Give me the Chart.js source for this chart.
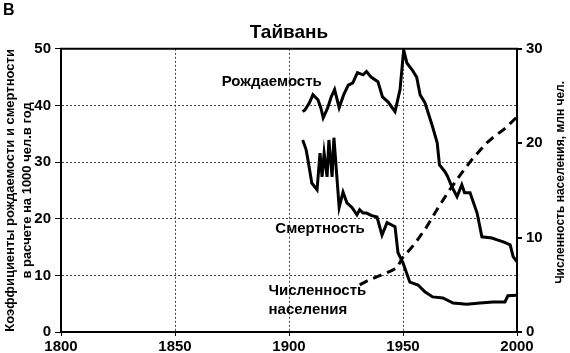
<!DOCTYPE html>
<html>
<head>
<meta charset="utf-8">
<script src="https://cdn.jsdelivr.net/npm/chart.js@4.4.1/dist/chart.umd.min.js"></script>
<style>
  html, body { margin: 0; padding: 0; background: #fff; }
</style>
</head>
<body>
<canvas id="chart" width="570" height="353"></canvas>
<script>
// Taiwan: birth / death rate per 1000 (left axis), population in mln (right axis)
const birthYears = [1906, 1907, 1909, 1910.5, 1912.7, 1914, 1915, 1917, 1918.5, 1920, 1922, 1924, 1926, 1928, 1930, 1932.5, 1934, 1936, 1939, 1941, 1943.5, 1946.5, 1948.7, 1950.3, 1951.7, 1954, 1956, 1957.5, 1959.6, 1962.7, 1965, 1966, 1968.4, 1969.5, 1971.5, 1973.7, 1975.8, 1977, 1979.4, 1982.5, 1984.6, 1989, 1991, 1994, 1997, 1998.3, 2000];
const birthRate = [38.9, 39.2, 40.5, 41.9, 41.0, 39.5, 37.8, 39.6, 41.5, 42.8, 39.6, 41.9, 43.6, 44.0, 45.8, 45.4, 46.0, 45.0, 44.2, 41.5, 40.6, 38.9, 42.8, 49.8, 47.5, 46.3, 45.0, 41.9, 40.5, 36.6, 33.4, 29.5, 28.3, 27.5, 25.6, 23.9, 26.0, 24.6, 24.6, 21.0, 16.8, 16.6, 16.3, 15.9, 15.4, 13.3, 12.4];

const deathYears = [1906, 1907.5, 1908.3, 1910, 1912.3, 1913.6, 1914.5, 1915.4, 1916.7, 1917.5, 1918.9, 1919.7, 1921, 1922, 1923.7, 1925.4, 1927.6, 1929.8, 1931, 1932.5, 1934, 1936, 1938.6, 1940.8, 1943, 1946.5, 1947.8, 1950, 1953, 1956.6, 1959.6, 1963, 1967.5, 1972, 1978, 1983.8, 1989.5, 1994.7, 1996, 2000];
const deathRate = [33.9, 32.2, 30.4, 26.3, 25.1, 31.6, 27.4, 31.6, 27.4, 33.9, 27.4, 34.3, 27.4, 22.0, 24.7, 22.8, 22.0, 20.7, 21.6, 21.0, 21.0, 20.6, 20.3, 17.1, 19.3, 18.6, 14.0, 12.2, 8.8, 8.3, 7.1, 6.2, 6.0, 5.1, 4.9, 5.1, 5.3, 5.3, 6.4, 6.5];

const popYears = [1931, 1935, 1940, 1945, 1947.4, 1949.6, 1955, 1960, 1963, 1965, 1970, 1975, 1980, 1984, 1987, 1990, 1995, 2000];
const population = [5.0, 5.5, 6.0, 6.5, 6.8, 7.8, 9.3, 11.0, 12.2, 13.0, 14.9, 16.6, 18.2, 19.3, 20.1, 20.7, 21.6, 22.8];

const yearTicks = [1800, 1850, 1900, 1950, 2000];
const rateTicks = [0, 10, 20, 30, 40, 50];
const popTicks = [0, 10, 20, 30];

const FONT = "'Liberation Sans', Arial, sans-serif";

function toPoints(xs, ys) {
  return xs.map((x, i) => ({ x: x, y: ys[i] }));
}

// text labels next to the curves, placed in data coordinates
const notes = [
  { text: "Рождаемость", year: 1870.5, value: 44.2, axis: "y" },
  { text: "Смертность", year: 1894, value: 18.2, axis: "y" },
  { text: "Численность", year: 1891, value: 7.3, axis: "y" },
  { text: "населения", year: 1891, value: 3.9, axis: "y" }
];

const extras = {
  id: "extras",
  afterDraw(chart) {
    const ctx = chart.ctx;
    const area = chart.chartArea;
    const xs = chart.scales.x;
    ctx.save();
    // top frame line
    ctx.strokeStyle = "#000";
    ctx.lineWidth = 2;
    ctx.beginPath();
    ctx.moveTo(area.left - 1, area.top);
    ctx.lineTo(area.right + 1, area.top);
    ctx.stroke();

    ctx.fillStyle = "#000";
    ctx.font = "bold 15px " + FONT;
    ctx.textAlign = "left";
    ctx.textBaseline = "middle";
    notes.forEach(n => {
      ctx.fillText(n.text, xs.getPixelForValue(n.year), chart.scales[n.axis].getPixelForValue(n.value));
    });

    // panel letter
    ctx.font = "bold 16px " + FONT;
    ctx.textBaseline = "top";
    ctx.fillText("В", 3, 3);

    // right axis title, reads bottom to top
    ctx.font = "bold 12px " + FONT;
    ctx.textAlign = "center";
    ctx.textBaseline = "middle";
    ctx.translate(561, (area.top + area.bottom) / 2 - 8);
    ctx.rotate(-Math.PI / 2);
    ctx.fillText("Численность населения, млн чел.", 0, 0);
    ctx.restore();
  }
};

const plain = v => String(v);

const ctx = document.getElementById("chart").getContext("2d");
const myChart = new Chart(ctx, {
  type: "line",
  data: {
    datasets: [
      {
        label: "Рождаемость",
        data: toPoints(birthYears, birthRate),
        borderColor: "#000",
        borderWidth: 3,
        pointRadius: 0,
        yAxisID: "y"
      },
      {
        label: "Смертность",
        data: toPoints(deathYears, deathRate),
        borderColor: "#000",
        borderWidth: 3,
        pointRadius: 0,
        yAxisID: "y"
      },
      {
        label: "Численность населения",
        data: toPoints(popYears, population),
        borderColor: "#000",
        borderWidth: 3,
        borderDash: [9, 6],
        pointRadius: 0,
        yAxisID: "y1"
      }
    ]
  },
  options: {
    responsive: false,
    animation: false,
    layout: { padding: 0 },
    plugins: {
      legend: { display: false },
      tooltip: { enabled: false },
      title: {
        display: true,
        text: "Тайвань",
        color: "#000",
        fullSize: false,
        font: { family: FONT, size: 19, weight: "bold", lineHeight: 1.2 },
        padding: { top: 21, bottom: 5 }
      }
    },
    scales: {
      x: {
        type: "linear",
        min: 1800,
        max: 2000,
        afterBuildTicks: s => { s.ticks = yearTicks.map(v => ({ value: v })); },
        afterFit: s => { s.height = 21; },
        ticks: {
          color: "#000",
          padding: 2,
          maxRotation: 0,
          callback: plain,
          font: { family: FONT, size: 15, weight: "bold" }
        },
        grid: {
          color: "#444",
          tickColor: "#000",
          tickLength: 4,
          tickBorderDash: [],
          lineWidth: 1
        },
        border: { color: "#000", width: 2, dash: [2, 2] }
      },
      y: {
        position: "left",
        min: 0,
        max: 50,
        afterBuildTicks: s => { s.ticks = rateTicks.map(v => ({ value: v })); },
        afterFit: s => { s.width = 61; },
        ticks: {
          color: "#000",
          padding: 4,
          callback: plain,
          font: { family: FONT, size: 15, weight: "bold" }
        },
        grid: {
          color: "#444",
          tickColor: "#000",
          tickLength: 6,
          tickBorderDash: [],
          lineWidth: 1
        },
        border: { color: "#000", width: 2, dash: [2, 2] },
        title: {
          display: true,
          text: ["Коэффициенты рождаемости и смертности", "в расчете на 1000 чел.в год"],
          color: "#000",
          font: { family: FONT, size: 13, weight: "bold", lineHeight: 1.3 },
          padding: { top: 2, bottom: 0 }
        }
      },
      y1: {
        position: "right",
        min: 0,
        max: 30,
        afterBuildTicks: s => { s.ticks = popTicks.map(v => ({ value: v })); },
        afterFit: s => { s.width = 53; },
        ticks: {
          color: "#000",
          padding: 4,
          callback: plain,
          font: { family: FONT, size: 15, weight: "bold" }
        },
        grid: {
          drawOnChartArea: false,
          color: "#000",
          tickLength: 5,
          lineWidth: 2
        },
        border: { color: "#000", width: 2 }
      }
    }
  },
  plugins: [extras]
});
</script>
</body>
</html>
